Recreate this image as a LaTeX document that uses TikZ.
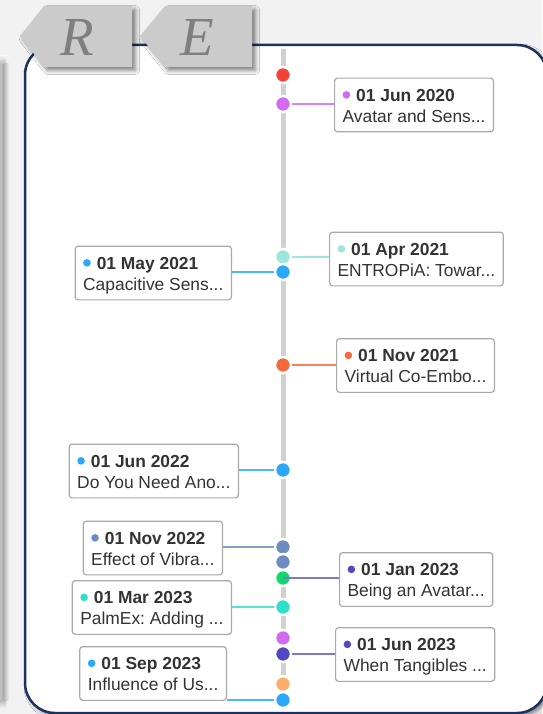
\documentclass[tikz,border=0pt]{standalone}
\usepackage{fontspec}
\setmainfont{Liberation Sans}
\newfontfamily\tabfont{Liberation Serif}
\usetikzlibrary{shadows.blur}
\definecolor{bg}{HTML}{F2F2F2}
\definecolor{navy}{HTML}{1B325E}
\definecolor{tabgray}{HTML}{CBCBCB}
\definecolor{tabtext}{HTML}{7F7F7F}
\definecolor{axisgray}{HTML}{D0D0D0}
\definecolor{cred}{HTML}{F44336}
\definecolor{cviolet}{HTML}{D36AF2}
\definecolor{cmint}{HTML}{9DE6DE}
\definecolor{cblue}{HTML}{2AA9FA}
\definecolor{corange}{HTML}{F5693A}
\definecolor{cslate}{HTML}{6E8CC0}
\definecolor{cgreen}{HTML}{10D86A}
\definecolor{cturq}{HTML}{2EDFC9}
\definecolor{cindigo}{HTML}{5148C2}
\definecolor{cpeach}{HTML}{FDAE6B}
\definecolor{cardtext}{HTML}{333333}
\definecolor{cardedge}{HTML}{A9A9A9}
\frenchspacing
\newcommand{\cardtxt}[3]{\rule{0pt}{23pt}\tikz[baseline=-6.3pt]\fill[#1](0,0)circle(3.8pt);\hspace{6pt}\textbf{#2}\\#3\rule[-9.7pt]{0pt}{9.7pt}}
\begin{document}
\begin{tikzpicture}[x=1pt,y=-1pt,
  dot/.style={circle,inner sep=0pt,minimum size=16pt,draw=white,line width=2.5pt},
  card/.style={rectangle,rounded corners=3pt,draw=cardedge,line width=1.2pt,fill=white,
    inner xsep=8pt,inner ysep=0pt,align=left,text=cardtext,font=\fontsize{17.4}{21}\selectfont},
  conn/.style={line width=1.3pt},
  tab/.style={fill=tabgray,blur shadow={shadow xshift=3.5pt,shadow yshift=-3.5pt,shadow opacity=50,shadow blur steps=8,shadow blur radius=4pt}},
  tabletter/.style={text=tabtext,font=\tabfont\itshape\fontsize{55}{55}\selectfont,inner sep=0pt}]
\useasboundingbox (0,0) rectangle (542,714);
\fill[bg] (0,0) rectangle (542,714);
% left shadow strip
\shade[left color=gray!50,right color=gray!62] (0,64) rectangle (3.5,700);
\shade[left color=gray!62,right color=bg] (3.5,64) rectangle (9,700);
\shade[top color=bg,bottom color=gray!55] (0,56) rectangle (6,64);
\shade[top color=gray!55,bottom color=bg] (0,700) rectangle (6,708);
% panel
\draw[navy,line width=2.5pt,fill=white,rounded corners=30pt,
  blur shadow={shadow xshift=3pt,shadow yshift=-3pt,shadow opacity=50,shadow blur radius=4pt}]
  (25,45) rectangle (547,713);
% axis
\coordinate (ttop) at (283,49);
\coordinate (tbot) at (283,706);
\draw[axisgray,line width=5pt] (ttop) -- (tbot);
% dots
\node[dot,fill=cred]    (d1)  at (283,75)  {};
\node[dot,fill=cviolet] (d2)  at (283,104) {};
\node[dot,fill=cmint]   (d3)  at (283,257) {};
\node[dot,fill=cblue]   (d4)  at (283,272) {};
\node[dot,fill=corange] (d5)  at (283,365) {};
\node[dot,fill=cblue]   (d6)  at (283,470) {};
\node[dot,fill=cslate]  (d7)  at (283,547) {};
\node[dot,fill=cslate]  (d8)  at (283,562) {};
\node[dot,fill=cgreen]  (d9)  at (283,578) {};
\node[dot,fill=cturq]   (d10) at (283,607) {};
\node[dot,fill=cviolet] (d11) at (283,638) {};
\node[dot,fill=cindigo] (d12) at (283,654) {};
\node[dot,fill=cpeach]  (d13) at (283,684) {};
\node[dot,fill=cblue]   (d14) at (283,700) {};
% cards
\node[card,anchor=west] (c1)  at (334,105)   {\cardtxt{cviolet}{01 Jun 2020}{Avatar and Sens...}};
\node[card,anchor=east] (c2)  at (232,273)   {\cardtxt{cblue}{01 May 2021}{Capacitive Sens...}};
\node[card,anchor=west] (c3)  at (329,259)   {\cardtxt{cmint}{01 Apr 2021}{ENTROPiA: Towar...}};
\node[card,anchor=west] (c4)  at (336,365.5) {\cardtxt{corange}{01 Nov 2021}{Virtual Co-Embo...}};
\node[card,anchor=east] (c5)  at (239,471)   {\cardtxt{cblue}{01 Jun 2022}{Do You Need Ano...}};
\node[card,anchor=east] (c6)  at (223,548)   {\cardtxt{cslate}{01 Nov 2022}{Effect of Vibra...}};
\node[card,anchor=west] (c7)  at (339,579.5) {\cardtxt{cindigo}{01 Jan 2023}{Being an Avatar...}};
\node[card,anchor=east] (c8)  at (232,607.5) {\cardtxt{cturq}{01 Mar 2023}{PalmEx: Adding ...}};
\node[card,anchor=west] (c9)  at (335,654.5) {\cardtxt{cindigo}{01 Jun 2023}{When Tangibles ...}};
\node[card,anchor=east] (c10) at (227,673.5) {\cardtxt{cblue}{01 Sep 2023}{Influence of Us...}};
% connectors
\draw[conn,cviolet!85] (d2.east) -- (d2 -| c1.west);
\draw[conn,cblue!85]   (d4.west) -- (d4 -| c2.east);
\draw[conn,cmint]      (d3.east) -- (d3 -| c3.west);
\draw[conn,corange!85] (d5.east) -- (d5 -| c4.west);
\draw[conn,cblue!85]   (d6.west) -- (d6 -| c5.east);
\draw[conn,cslate!85]  (d7.west) -- (d7 -| c6.east);
\draw[conn,cindigo!75] (d9.center) -- (d9 -| c7.west);
\draw[conn,cturq!85]   (d10.west) -- (d10 -| c8.east);
\draw[conn,cindigo!75] (d12.east) -- (d12 -| c9.west);
\draw[conn,cblue!85]   (d14.west) -- (d14 -| c10.east);
% tabs
\path[tab] (20,36) -- (44,6) -- (132,6) -- (132,67) -- (44,67) -- cycle;
\path[tab] (140,36) -- (165,6) -- (252,6) -- (252,67) -- (165,67) -- cycle;
\node[tabletter] (tabR) at (77,37) {R};
\node[tabletter] (tabE) at (197,37) {E};
\end{tikzpicture}
\end{document}
